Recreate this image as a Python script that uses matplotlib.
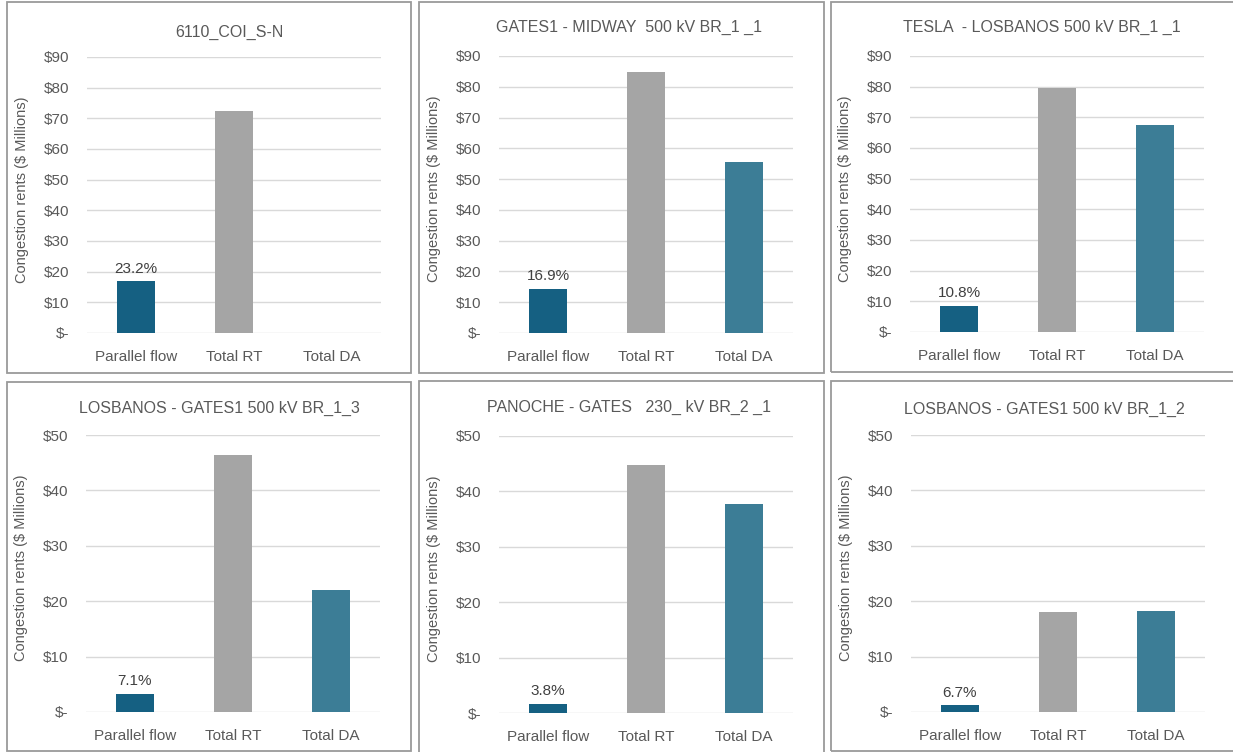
import matplotlib
matplotlib.use("Agg")
import matplotlib.pyplot as plt
from matplotlib.patches import Rectangle
from matplotlib.ticker import FuncFormatter, MultipleLocator

plt.rcParams["font.family"] = ["Liberation Sans", "DejaVu Sans"]

# Chart data
titles = [
    "6110_COI_S-N",
    "GATES1 - MIDWAY  500 kV BR_1 _1",
    "TESLA  - LOSBANOS 500 kV BR_1 _1",
    "LOSBANOS - GATES1 500 kV BR_1_3",
    "PANOCHE - GATES   230_ kV BR_2 _1",
    "LOSBANOS - GATES1 500 kV BR_1_2",
]
categories = ["Parallel flow", "Total RT", "Total DA"]
parallel_flow = [16.8, 14.35, 8.6, 3.3, 1.7, 1.2]
total_rt = [72.5, 84.9, 79.5, 46.4, 44.7, 18.0]
total_da = [0.0, 55.4, 67.5, 22.0, 37.7, 18.3]
y_max = [90, 90, 90, 50, 50, 50]
y_label = "Congestion rents ($ Millions)"

# Styling
bar_colors = ["#156082", "#A5A5A5", "#3C7D96"]
text_gray = "#595959"
grid_gray = "#D9D9D9"
border_gray = "#9A9A9A"

W, H = 1233, 752
fig = plt.figure(figsize=(W / 100, H / 100), dpi=100)
fig.patch.set_facecolor("white")

# Layout in pixels: plot area (left, top, right, bottom), frame box, title centre
plot_px = [
    (87, 57, 381, 333),
    (499, 56, 793, 333),
    (910, 56, 1204, 332),
    (86, 435, 380, 712),
    (499, 436, 793, 713),
    (911, 435, 1205, 712),
]
frame_px = [
    (7, 2, 411, 373),
    (419, 2, 824, 373),
    (831, 2, 1245, 372),
    (7, 382, 411, 751),
    (419, 381, 824, 760),
    (831, 381, 1245, 751),
]
title_px = [(229, 32), (629, 27), (1042, 27), (219, 408), (629, 407), (1044, 409)]


def money(v, _pos):
    if abs(v) < 1e-9:
        return "$-"
    return f"${v:.0f}"


for i in range(6):
    fl, ft, fr, fb = frame_px[i]
    fig.add_artist(Rectangle((fl / W, 1 - fb / H), (fr - fl) / W, (fb - ft) / H,
                             transform=fig.transFigure, fill=False,
                             edgecolor=border_gray, linewidth=1.3))

    l, t, r, b = plot_px[i]
    ax = fig.add_axes([l / W, 1 - b / H, (r - l) / W, (b - t) / H])
    values = [parallel_flow[i], total_rt[i], total_da[i]]
    x = range(len(categories))
    ax.bar(x, values, width=0.39, color=bar_colors, zorder=3)

    ax.set_xlim(-0.5, 2.5)
    ax.set_ylim(0, y_max[i])
    ax.yaxis.set_major_locator(MultipleLocator(10))
    ax.yaxis.set_major_formatter(FuncFormatter(money))
    ax.set_xticks(list(x))
    ax.set_xticklabels(categories)
    ax.grid(axis="y", color=grid_gray, linewidth=1.0, zorder=0)
    ax.set_axisbelow(True)
    for s in ax.spines.values():
        s.set_visible(False)
    ax.tick_params(axis="both", length=0, colors=text_gray)
    ax.tick_params(axis="y", labelsize=11, pad=13)
    ax.tick_params(axis="x", labelsize=11, pad=12)

    ax.set_ylabel(y_label, fontsize=10.5, color=text_gray)
    ax.yaxis.set_label_coords(-0.198, 0.52)

    share = parallel_flow[i] / total_rt[i] * 100
    ax.annotate(f"{share:.1f}%", xy=(0, parallel_flow[i]), xytext=(0, 4),
                textcoords="offset points", ha="center", va="bottom",
                fontsize=11, color="#404040")

    tx, ty = title_px[i]
    fig.text(tx / W, 1 - ty / H, titles[i], ha="center", va="center",
             fontsize=11.5, color=text_gray)

fig.savefig("out.png", dpi=100, facecolor="white")
